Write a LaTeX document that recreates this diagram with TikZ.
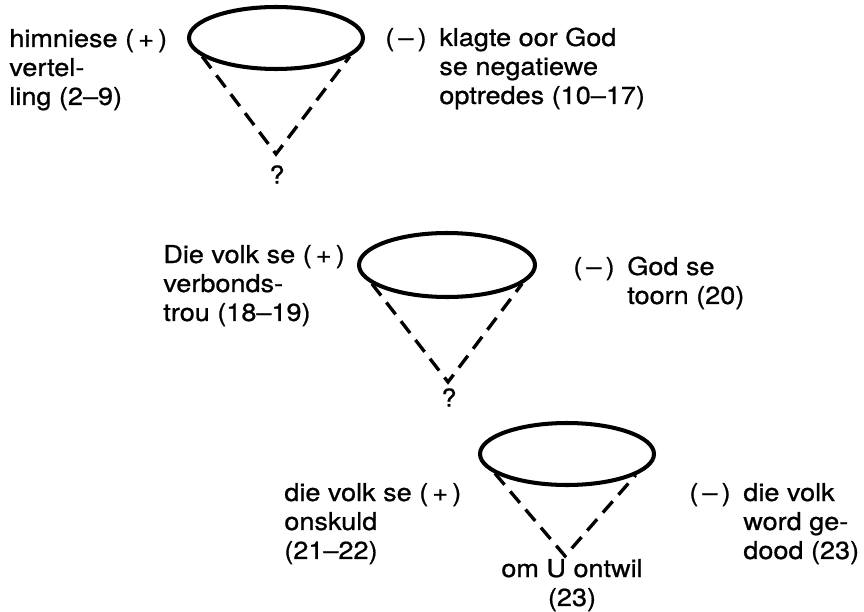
\documentclass[tikz,border=0pt]{standalone}
\usepackage{fontspec}
\setmainfont{TeX Gyre Heros}[FakeStretch=1.1, FakeBold=0.8]
\usetikzlibrary{shapes}
\tikzset{
rim/.style={
	  draw, ellipse, line width=2.3pt, inner sep=0pt,
	    minimum width=3.48cm, minimum height=1.24cm},
side/.style={line width=1.9pt, dash pattern=on 8.5pt off 5pt},
txt/.style={anchor=base west, inner sep=0pt, font=\fontsize{14}{16.5}\selectfont}
}
\newcommand{\negsign}{\makebox[1.08cm][l]{(\,--\,)}}

\begin{document}
\begin{tikzpicture}[x=0.02cm, y=-0.02cm]
	\useasboundingbox (0,0) rectangle (864,611);
	% eerste keel
	\node[rim] (e1) at (276,38) {};
	\coordinate (a1) at (276,154);
	\draw[side] (e1.194) -- (a1) -- (e1.346);
	\node[txt, anchor=north] (q1) at (277,165) {?};
	\node[txt] (l1) at (9,47) {\begin{tabular}[t]{@{}l@{}}himniese (\,+\,)\\ vertel-\\ ling (2--9)\end{tabular}};
	\node[txt] (r1) at (385,46) {\begin{tabular}[t]{@{}l@{}l@{}}\negsign & klagte oor God\\ & se negatiewe\\ & optredes (10--17)\end{tabular}};
	% tweede keel
	\node[rim, minimum width=3.52cm, minimum height=1.28cm] (e2) at (447,265) {};
	\coordinate (a2) at (448,382);
	\draw[side] (e2.194) -- (a2) -- (e2.346);
	\node[txt, anchor=north] (q2) at (449,388) {?};
	\node[txt] (l2) at (163,263) {\begin{tabular}[t]{@{}l@{}}Die volk se (\,+\,)\\ verbonds-\\ trou (18--19)\end{tabular}};
	\node[txt] (r2) at (573,275) {\begin{tabular}[t]{@{}l@{}l@{}}\negsign & God se\\ & toorn (20)\end{tabular}};
	% derde keel
	\node[rim] (e3) at (567,454) {};
	\coordinate (a3) at (565,556);
	\draw[side] (e3.195) -- (a3) -- (e3.343);
	\node[txt, anchor=base] (q3) at (572,577) {\begin{tabular}[t]{@{}c@{}}om U ontwil\\ (23)\hspace{0.36cm}\end{tabular}};
	\node[txt] (l3) at (284,501) {\begin{tabular}[t]{@{}l@{}}die volk se (\,+\,)\\ onskuld\\ (21--22)\end{tabular}};
	\node[txt] (r3) at (689,501) {\begin{tabular}[t]{@{}l@{}l@{}}\negsign & die volk\\ & word ge-\\ & dood (23)\end{tabular}};
\end{tikzpicture}
\end{document}
